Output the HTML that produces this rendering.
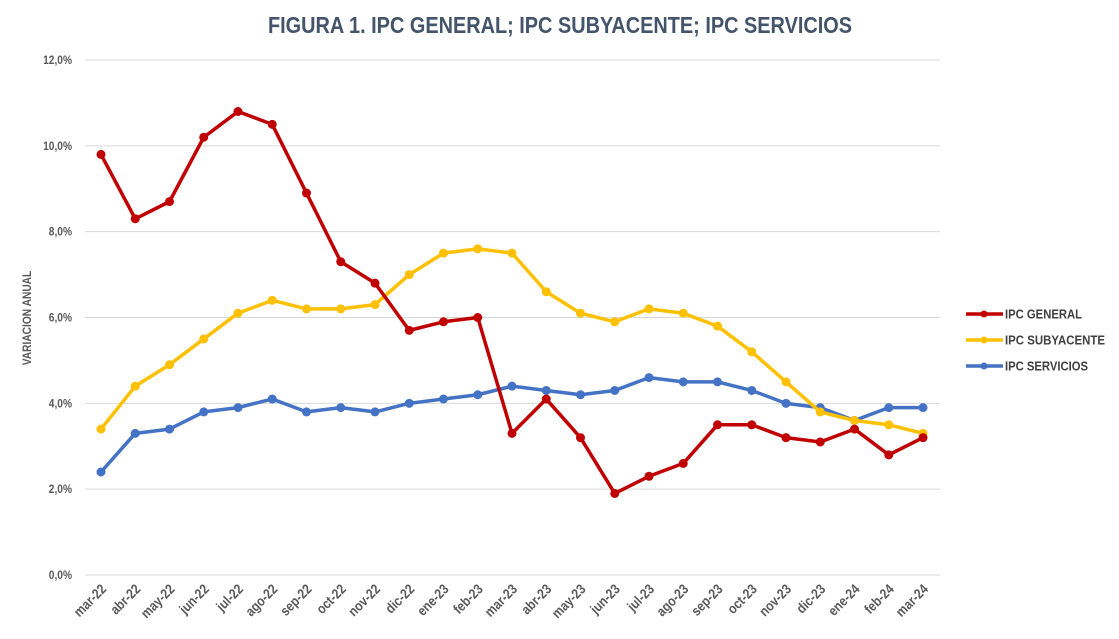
<!DOCTYPE html>
<html><head><meta charset="utf-8">
<style>
html,body{margin:0;padding:0;background:#fff;}
svg{display:block;font-family:"Liberation Sans Narrow","Liberation Sans",Arial,sans-serif;}
</style></head>
<body>
<svg id="chart" width="1119" height="639" viewBox="0 0 1119 639">
  <text x="268" y="33" textLength="584" lengthAdjust="spacingAndGlyphs" font-size="23" font-weight="bold" fill="#44546a">FIGURA 1. IPC GENERAL; IPC SUBYACENTE; IPC SERVICIOS</text>
  <text transform="translate(31,318) rotate(-90) scale(0.85,1)" text-anchor="middle" font-size="12" font-weight="bold" fill="#595959">VARIACION ANUAL</text>
  <g id="grid"></g>
  <g id="series"></g>
  <g id="legend"></g>
</svg>
<script>
const categories=["mar-22","abr-22","may-22","jun-22","jul-22","ago-22","sep-22","oct-22","nov-22","dic-22","ene-23","feb-23","mar-23","abr-23","may-23","jun-23","jul-23","ago-23","sep-23","oct-23","nov-23","dic-23","ene-24","feb-24","mar-24"];
const general=[9.8,8.3,8.7,10.2,10.8,10.5,8.9,7.3,6.8,5.7,5.9,6.0,3.3,4.1,3.2,1.9,2.3,2.6,3.5,3.5,3.2,3.1,3.4,2.8,3.2];
const subyacente=[3.4,4.4,4.9,5.5,6.1,6.4,6.2,6.2,6.3,7.0,7.5,7.6,7.5,6.6,6.1,5.9,6.2,6.1,5.8,5.2,4.5,3.8,3.6,3.5,3.3];
const servicios=[2.4,3.3,3.4,3.8,3.9,4.1,3.8,3.9,3.8,4.0,4.1,4.2,4.4,4.3,4.2,4.3,4.6,4.5,4.5,4.3,4.0,3.9,3.6,3.9,3.9];
const yTicks=[0,2,4,6,8,10,12];
const seriesNames=["IPC GENERAL","IPC SUBYACENTE","IPC SERVICIOS"];

const NS="http://www.w3.org/2000/svg";
const x0=101,x1=923,yBase=575,yTop=60,yMax=12;
const xs=i=>x0+i*(x1-x0)/(categories.length-1);
const ys=v=>yBase-v*(yBase-yTop)/yMax;
function mk(tag,attrs,parent){const e=document.createElementNS(NS,tag);for(const k in attrs)e.setAttribute(k,attrs[k]);parent.appendChild(e);return e;}
const grid=document.getElementById('grid');
yTicks.forEach(t=>{
  const l=mk('line',{x1:85,x2:940,y1:ys(t),y2:ys(t),stroke:'#d9d9d9','stroke-width':1},grid);
  
  
  const tx=mk('text',{transform:`translate(72,${ys(t)+4}) scale(0.85,1)`,'text-anchor':'end','font-size':12,'font-weight':'bold',fill:'#595959'},grid);
  tx.textContent=t.toFixed(1).replace('.',',')+'%';
  
  
});
categories.forEach((c,i)=>{
  const tx=mk('text',{transform:`translate(${xs(i)+6},${590}) rotate(-45) scale(0.85,1)`,'text-anchor':'end','font-size':14,'font-weight':'bold',fill:'#595959'},grid);
  tx.textContent=c;
  
  
});
const sg=document.getElementById('series');
const defs=[[general,'#c00000','series-ipc-general'],[subyacente,'#ffc000','series-ipc-subyacente'],[servicios,'#4472c4','series-ipc-servicios']];
[2,1,0].forEach(k=>{
  const [d,col,name]=defs[k];
  const g=mk('g',{},sg);
  
  
  const p=mk('polyline',{points:d.map((v,i)=>xs(i)+','+ys(v)).join(' '),fill:'none',stroke:col,'stroke-width':3.5,'stroke-linejoin':'round'},g);
  
  
  d.forEach((v,i)=>{
    const c=mk('circle',{cx:xs(i),cy:ys(v),r:4.5,fill:col},g);
    
    
  });
});
const lg=document.getElementById('legend');
const lens=[77,100,83];
[0,1,2].forEach(k=>{
  const y=314+k*26,col=defs[k][1];
  const g=mk('g',{},lg);
  
  
  mk('line',{x1:966,x2:1003,y1:y,y2:y,stroke:col,'stroke-width':3.5},g);
  mk('circle',{cx:984,cy:y,r:3.5,fill:col},g);
  const t=mk('text',{x:1005,y:y+4.5,'font-size':13,'font-weight':'bold',fill:'#404040',textLength:lens[k],lengthAdjust:'spacingAndGlyphs'},g);
  t.textContent=seriesNames[k];
});
</script>
</body></html>
